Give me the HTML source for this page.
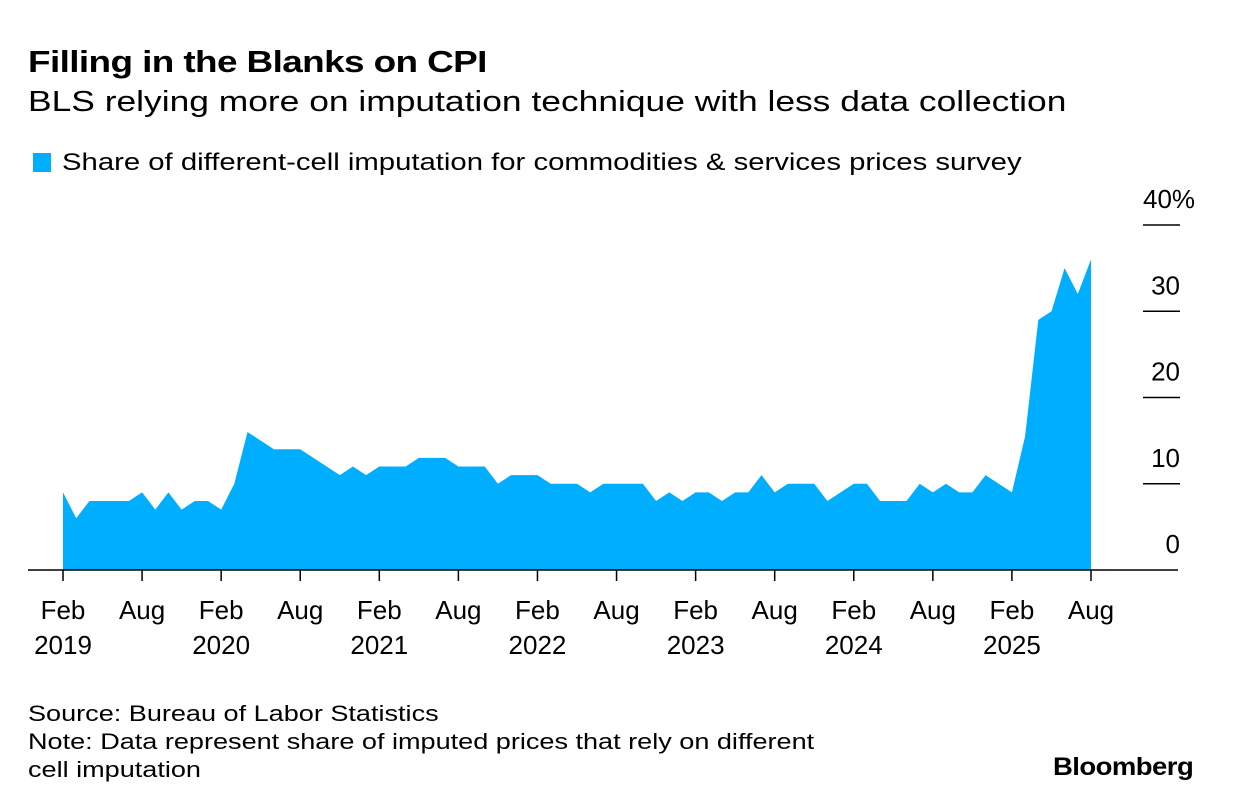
<!DOCTYPE html>
<html><head><meta charset="utf-8"><style>
body{margin:0;background:#fff;font-family:"Liberation Sans",sans-serif;color:#000}
.t{position:absolute;white-space:nowrap;transform-origin:0 0}
</style></head><body>
<div style="position:relative;width:1233px;height:812px;overflow:hidden">
<div class="t" style="left:28px;top:44px;font-size:31px;font-weight:bold;letter-spacing:-0.5px;transform:scaleX(1.19)">Filling in the Blanks on CPI</div>
<div class="t" style="left:28px;top:86px;font-size:29px;transform:scaleX(1.22)">BLS relying more on imputation technique with less data collection</div>
<span style="position:absolute;left:33px;top:153px;width:18px;height:19px;background:#00aeff"></span>
<div class="t" style="left:62px;top:149px;font-size:24px;transform:scaleX(1.22)">Share of different-cell imputation for commodities &amp; services prices survey</div>
<svg id="svg" width="1233" height="812" style="position:absolute;left:0;top:0"></svg>
<div class="t" style="left:28px;top:700px;font-size:22px;line-height:28px;transform:scaleX(1.23)">Source: Bureau of Labor Statistics<br>Note: Data represent share of imputed prices that rely on different<br>cell imputation</div>
<div class="t" style="left:1053px;top:753px;font-size:25px;font-weight:bold;letter-spacing:-0.5px;transform:scaleX(1.1)">Bloomberg</div>
</div>
<script>
const values=[9,6,8,8,8,8,9,7,9,7,8,
8,7,10,16,15,14,14,14,13,12,11,12,
11,12,12,12,13,13,13,12,12,12,10,11,
11,11,10,10,10,9,10,10,10,10,8,9,
8,9,9,8,9,9,11,9,10,10,10,8,
9,10,10,8,8,8,10,9,10,9,9,11,
10,9,15.5,29,30,35,32,36];
const yTicks=[0,10,20,30,40];
const xMonths=["Feb","Aug","Feb","Aug","Feb","Aug","Feb","Aug","Feb","Aug","Feb","Aug","Feb","Aug"];
const xYears=["2019","","2020","","2021","","2022","","2023","","2024","","2025",""];
const NS="http://www.w3.org/2000/svg",svg=document.getElementById('svg');
const x=i=>63+i*(1091-63)/78;
const y=v=>570-v*(570-225)/40;
function mk(t,a){const e=document.createElementNS(NS,t);for(const k in a)e.setAttribute(k,a[k]);svg.appendChild(e);return e;}
let d="M"+x(0)+","+y(0);
values.forEach((v,i)=>d+=" L"+x(i).toFixed(1)+","+y(v).toFixed(1));
d+=" L"+x(values.length-1)+","+y(0)+"Z";
const area=mk('path',{d:d,fill:'#00aeff'});


yTicks.forEach(t=>{
 if(t>0){const l=mk('line',{x1:1143,x2:1180,y1:y(t),y2:y(t),stroke:'#000','stroke-width':1.5});
 
 }
 const tx=mk('text',{x:t===40?1143:1180,y:y(t)-17,'text-anchor':t===40?'start':'end','font-size':26,'font-family':'Liberation Sans'});
 tx.textContent=t===40?'40%':String(t);
 
 
});
const base=mk('line',{x1:28,x2:1178,y1:570,y2:570,stroke:'#000','stroke-width':1.5});


xMonths.forEach((m,k)=>{
 const xi=x(k*6);
 const tk=mk('line',{x1:xi,x2:xi,y1:570,y2:581,stroke:'#000','stroke-width':1.5});
 
 
 const t1=mk('text',{x:xi,y:619,'text-anchor':'middle','font-size':26,'font-family':'Liberation Sans'});
 t1.textContent=m;
 
 
 if(xYears[k]){const t2=mk('text',{x:xi,y:654,'text-anchor':'middle','font-size':26,'font-family':'Liberation Sans'});
 t2.textContent=xYears[k];
 
 }
});
</script>
</body></html>
